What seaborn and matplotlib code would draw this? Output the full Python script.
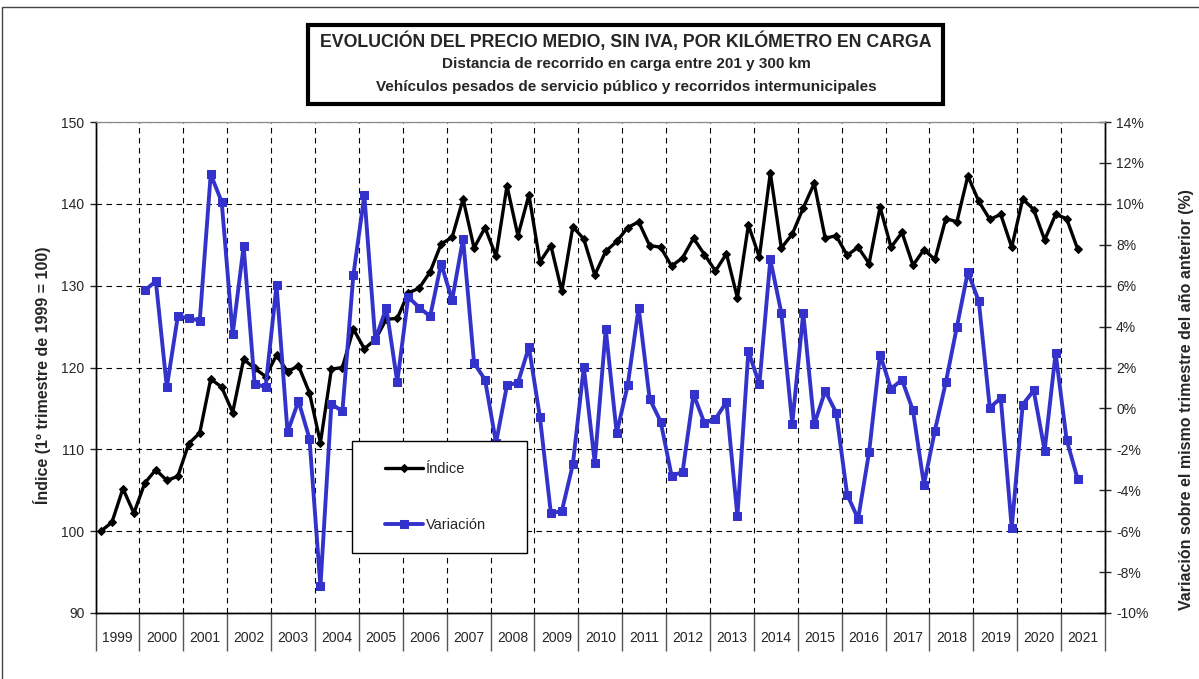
import matplotlib
matplotlib.use("Agg")
import matplotlib.pyplot as plt
import pandas as pd
import seaborn as sns
from matplotlib.patches import Rectangle
from matplotlib.ticker import FixedLocator, PercentFormatter, NullFormatter

# datos trimestrales, 1999 T1 .. 2021 T2
years = [str(y) for y in range(1999, 2022)]

indice = [
    100.0, 101.1, 105.2, 102.2,   # 1999
    105.9, 107.5, 106.2, 106.7,   # 2000
    110.7, 112.0, 118.6, 117.6,   # 2001
    114.5, 121.0, 119.9, 118.9,   # 2002
    121.5, 119.5, 120.2, 116.9,   # 2003
    110.8, 119.8, 120.0, 124.7,   # 2004
    122.3, 123.4, 125.9, 126.0,   # 2005
    129.1, 129.7, 131.7, 135.1,   # 2006
    135.9, 140.6, 134.6, 137.1,   # 2007
    133.6, 142.2, 136.1, 141.1,   # 2008
    132.9, 134.9, 129.3, 137.2,   # 2009
    135.7, 131.3, 134.2, 135.4,   # 2010
    137.1, 137.8, 134.9, 134.7,   # 2011
    132.4, 133.4, 135.8, 133.8,   # 2012
    131.8, 133.9, 128.5, 137.4,   # 2013
    133.5, 143.8, 134.6, 136.3,   # 2014
    139.5, 142.5, 135.8, 136.1,   # 2015
    133.7, 134.7, 132.7, 139.6,   # 2016
    134.7, 136.5, 132.5, 134.4,   # 2017
    133.2, 138.2, 137.8, 143.4,   # 2018
    140.3, 138.1, 138.7, 134.7,   # 2019
    140.6, 139.3, 135.6, 138.7,   # 2020
    138.2, 134.5,                 # 2021
]

# variacion interanual (%), desde 2000 T1
variacion = [
    5.77, 6.22, 1.04, 4.50,       # 2000
    4.42, 4.29, 11.44, 10.10,     # 2001
    3.62, 7.93, 1.21, 1.04,       # 2002
    6.02, -1.16, 0.36, -1.48,     # 2003
    -8.70, 0.23, -0.15, 6.51,     # 2004
    10.42, 3.33, 4.93, 1.29,      # 2005
    5.45, 4.93, 4.50, 7.08,       # 2006
    5.29, 8.30, 2.22, 1.40,       # 2007
    -1.68, 1.13, 1.26, 3.00,      # 2008
    -0.42, -5.12, -5.02, -2.74,   # 2009
    2.02, -2.66, 3.87, -1.21,     # 2010
    1.13, 4.93, 0.47, -0.64,      # 2011
    -3.28, -3.12, 0.69, -0.72,    # 2012
    -0.51, 0.31, -5.27, 2.81,     # 2013
    1.17, 7.28, 4.68, -0.75,      # 2014
    4.67, -0.78, 0.85, -0.20,     # 2015
    -4.21, -5.40, -2.14, 2.63,    # 2016
    0.96, 1.40, -0.10, -3.72,     # 2017
    -1.08, 1.29, 3.98, 6.67,      # 2018
    5.24, 0.03, 0.51, -5.84,      # 2019
    0.18, 0.88, -2.06, 2.71,      # 2020
    -1.53, -3.44,                 # 2021
]

title_lines = [
    "EVOLUCIÓN DEL PRECIO MEDIO, SIN IVA, POR KILÓMETRO EN CARGA",
    "Distancia de recorrido en carga entre 201 y 300 km",
    "Vehículos pesados de servicio público y recorridos intermunicipales",
]
left_label = "Índice (1º trimestre de 1999 = 100)"
right_label = "Variación sobre el mismo trimestre del año anterior (%)"
series_names = ["Índice", "Variación"]

df_ind = pd.DataFrame({"pos": range(len(indice)), "valor": indice})
df_var = pd.DataFrame({"pos": range(4, 4 + len(variacion)), "valor": variacion})

sns.set_style("white")
plt.rcParams["font.family"] = ["Liberation Sans", "DejaVu Sans"]
plt.rcParams["axes.unicode_minus"] = False

W, H = 1199, 679
fig = plt.figure(figsize=(W / 100, H / 100), dpi=100)
ax = fig.add_axes([95.5 / W, 1 - 613 / H, 1009.5 / W, 491 / H])
ax2 = ax.twinx()

BLUE = "#3333CC"
sns.lineplot(data=df_ind, x="pos", y="valor", ax=ax, color="black", linewidth=2.4,
             marker="D", markersize=4, markeredgecolor="black", legend=False, zorder=4)
sns.lineplot(data=df_var, x="pos", y="valor", ax=ax2, color=BLUE, linewidth=2.8,
             marker="s", markersize=5.5, markeredgecolor=BLUE, legend=False, zorder=3)

n_cat = 4 * len(years)
ax.set_xlim(-0.5, n_cat - 0.5)
ax.set_ylim(90, 150)
ax2.set_ylim(-10, 14)

# eje x: separadores de año largos, etiquetas centradas
ax.xaxis.set_major_locator(FixedLocator([4 * k - 0.5 for k in range(len(years) + 1)]))
ax.xaxis.set_major_formatter(NullFormatter())
ax.set_xticks([4 * k + 1.5 for k in range(len(years))], years, minor=True)
ax.tick_params(axis="x", which="major", bottom=True, length=27, width=1, color="#555555", direction="out")
ax.tick_params(axis="x", which="minor", bottom=True, length=0, pad=13, labelsize=10)

ax.set_yticks(range(90, 151, 10))
ax.tick_params(axis="y", left=True, length=4, width=1, direction="out", labelsize=10, pad=4)
ax2.set_yticks(range(-10, 15, 2))
ax2.yaxis.set_major_formatter(PercentFormatter(xmax=100, decimals=0))
ax2.tick_params(axis="y", right=True, length=8, width=1, direction="inout", labelsize=10, pad=4)

ax.grid(True, which="major", axis="both", color="black", linestyle=(0, (5, 4)), linewidth=0.8)
ax.set_axisbelow(True)

for a in (ax, ax2):
    for s in ("left", "right", "bottom"):
        a.spines[s].set_color("black")
        a.spines[s].set_linewidth(1)
    a.spines["top"].set_color("#888888")
    a.set_xlabel("")
    a.set_ylabel("")

fig.text(42 / W, 1 - 375 / H, left_label, rotation=90, ha="center", va="center",
         fontsize=11.5, fontweight="bold")
fig.text(1187 / W, 1 - 400 / H, right_label, rotation=90, ha="center", va="center",
         fontsize=11.5, fontweight="bold")

# leyenda con marco opaco
ax2.add_patch(Rectangle((0.254, 0.122), 0.1734, 0.228, transform=ax2.transAxes,
                        facecolor="white", edgecolor="black", linewidth=1, zorder=10))
handles = [ax.get_lines()[0], ax2.get_lines()[0]]
leg = ax2.legend(handles, series_names, loc="center left", bbox_to_anchor=(0.280, 0.236),
                 frameon=False, fontsize=10.5, labelspacing=2.9, handlelength=2.6,
                 handletextpad=0.2, borderpad=0)
leg.set_zorder(11)

# recuadro del titulo
fig.patches.append(Rectangle((308 / W, 1 - 104 / H), 635 / W, 79 / H, transform=fig.transFigure,
                             facecolor="white", edgecolor="black", linewidth=3))
fig.text(626 / W, 1 - 41 / H, title_lines[0], ha="center", va="center", fontsize=12.8, fontweight="bold")
fig.text(626 / W, 1 - 64 / H, title_lines[1], ha="center", va="center", fontsize=11, fontweight="bold")
fig.text(626 / W, 1 - 87 / H, title_lines[2], ha="center", va="center", fontsize=11, fontweight="bold")

# marco exterior
fig.patches.append(Rectangle((2 / W, -0.1), 1.2, 1.1 - 7 / H, transform=fig.transFigure,
                             facecolor="none", edgecolor="#444444", linewidth=1))

fig.savefig("out.png", dpi=100)
